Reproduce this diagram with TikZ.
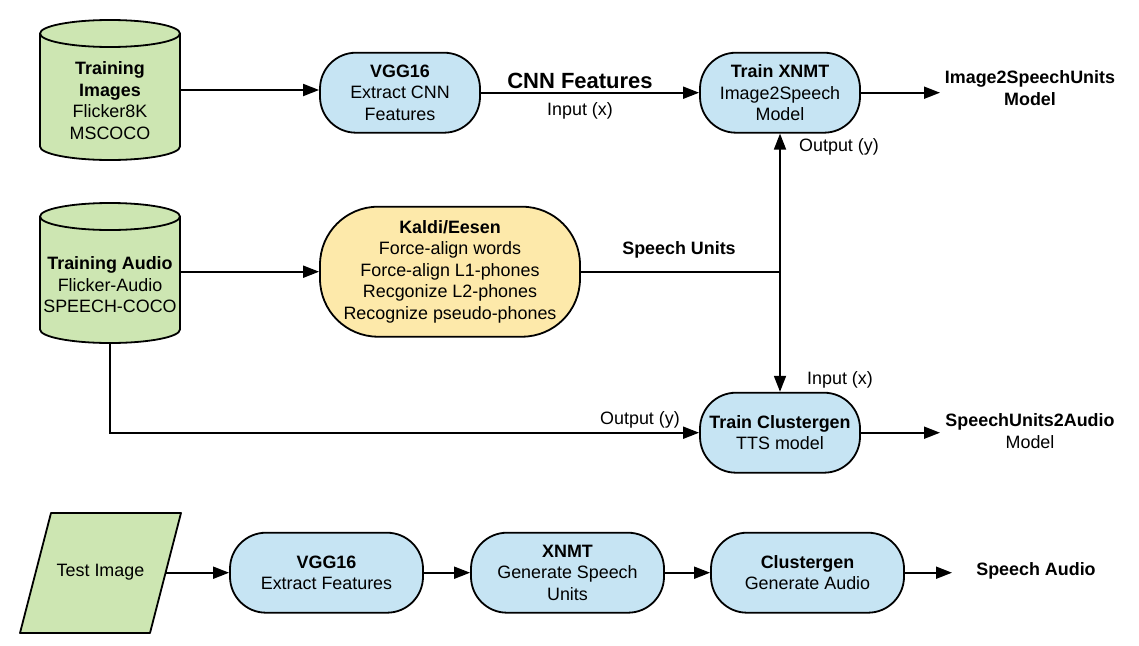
\documentclass[tikz,border=0pt]{standalone}
\usepackage{fontspec}
\setmainfont{Liberation Sans}
\usetikzlibrary{arrows.meta}
\definecolor{boxblue}{RGB}{198,228,243}
\definecolor{boxyellow}{RGB}{253,233,170}
\definecolor{boxgreen}{RGB}{205,230,178}
\begin{document}
\begin{tikzpicture}[x=1pt,y=-1pt,
  every node/.style={font=\fontsize{17.9}{21.5}\selectfont, align=center, inner sep=0pt},
  proc/.style={draw, line width=1.8pt, fill=boxblue, rounded corners=36, minimum width=160, minimum height=80},
  procw/.style={proc, minimum width=193},
  kaldibox/.style={draw, line width=1.8pt, fill=boxyellow, rounded corners=58, minimum width=260, minimum height=130},
  cylbody/.style={minimum width=140, minimum height=140},
  shapeline/.style={draw, line width=1.8pt, fill=boxgreen, line join=round},
  conn/.style={line width=1.8pt, -{Triangle[length=16pt,width=12pt]}},
  plainline/.style={line width=1.8pt},
  lbl/.style={},
  bigbold/.style={font=\bfseries\fontsize{22}{26}\selectfont},
  cylpic/.pic={
    \path[shapeline] (-70,-56.5) -- (-70,56.5)
      arc[start angle=180, end angle=0, x radius=70, y radius=13.5]
      -- (70,-56.5)
      arc[start angle=0, end angle=-180, x radius=70, y radius=13.5] -- cycle;
    \draw[line width=1.8pt] (-70,-56.5)
      arc[start angle=180, end angle=0, x radius=70, y radius=13.5];
  }
]
\useasboundingbox (0,0) rectangle (1139,645);

% cylinders
\pic at (110,90) {cylpic};
\node[cylbody] (img) at (110,90) {};
\node (imgtxt) at (110,100.5) {\textbf{Training}\\\textbf{Images}\\Flicker8K\\MSCOCO};
\pic at (110,273) {cylpic};
\node[cylbody] (aud) at (110,273) {};
\node (audtxt) at (110,285) {\textbf{Training Audio}\\Flicker-Audio\\SPEECH-COCO};

% top row boxes
\node[proc] (vgg) at (400,92.7) {\textbf{VGG16}\\Extract CNN\\Features};
\node[proc] (xnmt) at (780,92.7) {\textbf{Train XNMT}\\Image2Speech\\Model};
\node[kaldibox] (kaldi) at (450,271.7) {\textbf{Kaldi/Eesen}\\Force-align words\\Force-align L1-phones\\Recgonize L2-phones\\Recognize pseudo-phones};
\node[proc] (clus) at (780,432.7) {\textbf{Train Clustergen}\\TTS model};

% outputs
\node (m1) at (1030,88) {\textbf{Image2SpeechUnits}\\\textbf{Model}};
\node (m2) at (1030,431) {\textbf{SpeechUnits2Audio}\\Model};
\coordinate (m1in) at (940,92.7);
\coordinate (m2in) at (940,432.7);

% labels
\node[bigbold] (cnn) at (580,81) {CNN Features};
\node[lbl] (inx1) at (580,111) {Input (x)};
\node[lbl] (su) at (679,250) {\textbf{Speech Units}};
\node[lbl] (outy1) at (839,147) {Output (y)};
\node[lbl] (inx2) at (840,380) {Input (x)};
\node[lbl] (outy2) at (640,420) {Output (y)};

% connectors top part
\draw[conn] (img.east) -- (img.east -| vgg.west);
\draw[conn] (vgg.east) -- (xnmt.west);
\draw[conn] (xnmt.east) -- (m1in);
\draw[conn] (aud.east |- kaldi.west) -- (kaldi.west);
\coordinate (junc) at (780,271.7);
\draw[plainline] (kaldi.east) -- (junc);
\draw[conn] (junc) -- (xnmt.south);
\draw[conn] (junc) -- (clus.north);
\draw[conn] (aud.south) |- (clus.west);
\draw[conn] (clus.east) -- (m2in);

% bottom row
\path[shapeline] (51,513) -- (181,513) -- (150,633) -- (20,633) -- cycle;
\node (test) at (100.5,572) {Test Image};
\coordinate (testE) at (165.5,572.7);
\node[procw] (vgg2) at (326.5,572.7) {\textbf{VGG16}\\Extract Features};
\node[procw] (xnmt2) at (567.5,572.7) {\textbf{XNMT}\\Generate Speech\\Units};
\node[procw] (clus2) at (807.5,572.7) {\textbf{Clustergen}\\Generate Audio};
\node (sa) at (1036,571) {\textbf{Speech Audio}};
\coordinate (sain) at (952,572.7);
\draw[conn] (testE) -- (vgg2.west);
\draw[conn] (vgg2.east) -- (xnmt2.west);
\draw[conn] (xnmt2.east) -- (clus2.west);
\draw[conn] (clus2.east) -- (sain);
\end{tikzpicture}
\end{document}
